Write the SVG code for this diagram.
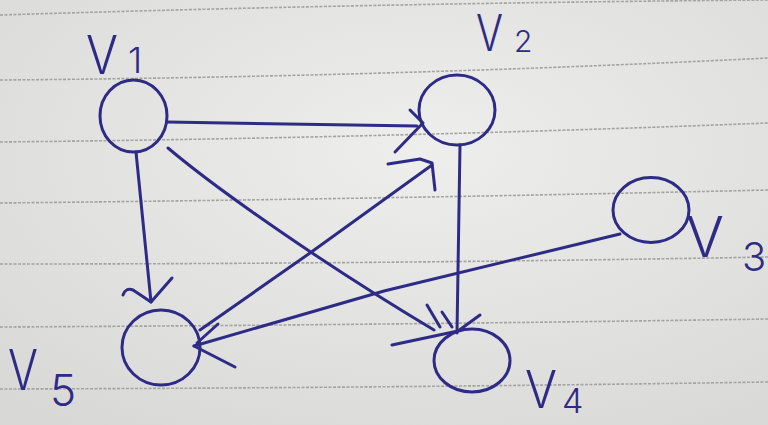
<svg xmlns="http://www.w3.org/2000/svg" width="768" height="425" viewBox="0 0 768 425">
<defs>
<radialGradient id="paper" cx="0.55" cy="0.35" r="0.8">
<stop offset="0" stop-color="#eeeeec"/>
<stop offset="1" stop-color="#d8d8d6"/>
</radialGradient>
</defs>
<style>
.rule{fill:none;stroke:#a3a3a0;stroke-width:1.6;stroke-dasharray:3 1.5}
.ink{fill:none;stroke:#2e2b86;stroke-width:3;stroke-linecap:round;stroke-linejoin:round}
.node{fill:none;stroke:#2e2b86;stroke-width:3}
.lbl{font-family:Inter,"Liberation Sans",sans-serif;font-weight:300;fill:#2e2b86}
</style>
<rect width="768" height="425" fill="url(#paper)"/>
<g id="rules">
<path class="rule" d="M0,15 Q384,3 768,0"/>
<path class="rule" d="M0,80 Q384,77 768,58"/>
<path class="rule" d="M0,142 Q384,138 768,123"/>
<path class="rule" d="M0,203 Q384,199 768,190"/>
<path class="rule" d="M0,264 Q384,264 768,257"/>
<path class="rule" d="M0,327 Q384,325 768,319"/>
<path class="rule" d="M0,389 Q384,388 768,382"/>
</g>
<g id="connectors">
<path class="ink" d="M167,122 L417,126"/>
<path class="ink" d="M410,110 L423,123 L395,152"/>
<path class="ink" d="M136,152 L151,302"/>
<path class="ink" d="M123,295 Q126,287 133,290 L151,302 L172,278"/>
<path class="ink" d="M168,148 C220,192 330,268 434,330"/>
<path class="ink" d="M427,305 L440,327 M442,312 L452,327"/>
<path class="ink" d="M460,145 L457,333"/>
<path class="ink" d="M480,315 L458,331 L392,345"/>
<path class="ink" d="M200,330 L310,253 L432,165"/>
<path class="ink" d="M388,164 L420,159 L432,163 L435,190"/>
<path class="ink" d="M620,234 L384,291 L194,346"/>
<path class="ink" d="M218,324 L197,343 M194,346 L235,367"/>
</g>
<g id="v1">
<ellipse class="node" cx="133.5" cy="116" rx="33.5" ry="36"/>
<text class="lbl"><tspan x="86" y="74" font-size="54" textLength="32" lengthAdjust="spacingAndGlyphs">V</tspan><tspan x="128" y="73" font-size="36">1</tspan></text>
</g>
<g id="v2">
<ellipse class="node" cx="457" cy="110" rx="38" ry="35"/>
<text class="lbl"><tspan x="476" y="51" font-size="50" textLength="27" lengthAdjust="spacingAndGlyphs">V</tspan><tspan x="514" y="52" font-size="30">2</tspan></text>
</g>
<g id="v3">
<ellipse class="node" cx="651" cy="210" rx="38" ry="32.5"/>
<text class="lbl"><tspan x="686" y="257" font-size="56" textLength="38" lengthAdjust="spacingAndGlyphs">V</tspan><tspan x="742" y="271" font-size="40">3</tspan></text>
</g>
<g id="v4">
<ellipse class="node" cx="472" cy="360.5" rx="38" ry="31.5"/>
<text class="lbl"><tspan x="525" y="408" font-size="52" textLength="32" lengthAdjust="spacingAndGlyphs">V</tspan><tspan x="562" y="413" font-size="34">4</tspan></text>
</g>
<g id="v5">
<ellipse class="node" cx="161" cy="347.5" rx="39" ry="37.5"/>
<text class="lbl"><tspan x="8" y="390" font-size="56" textLength="30" lengthAdjust="spacingAndGlyphs">V</tspan><tspan x="50" y="406" font-size="44">5</tspan></text>
</g>
</svg>
